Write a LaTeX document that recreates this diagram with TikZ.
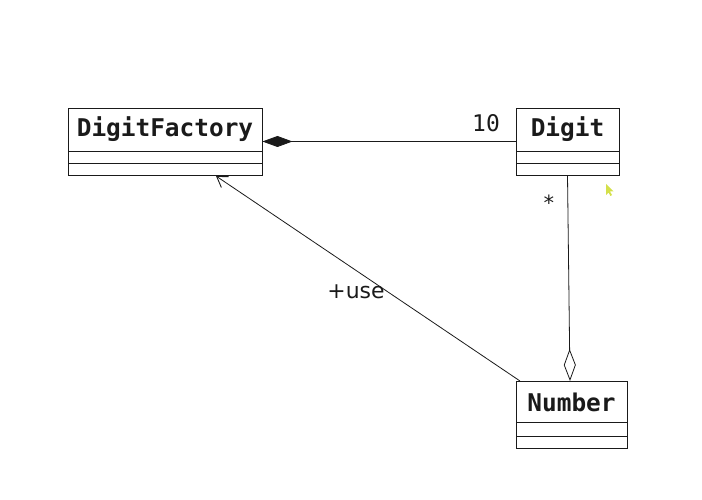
\documentclass[tikz,border=0pt]{standalone}
\usepackage{fontspec}
\usetikzlibrary{arrows.meta}
\newfontfamily\clsfont{DejaVu Sans Mono}
\newfontfamily\lblsans{DejaVu Sans}
\newfontfamily\lblmono{DejaVu Sans Mono}
\definecolor{ink}{HTML}{1A1A1A}
\definecolor{cursorcol}{HTML}{D4E04A}
\tikzset{
  classbox/.style={draw=ink, line width=0.9bp, inner sep=0pt, fill=white},
  clsname/.style={font=\clsfont\bfseries\fontsize{24.5}{24.5}\selectfont, text=ink, inner sep=0pt},
  conn/.style={draw=ink, line width=0.8bp},
  lbl/.style={text=ink, inner sep=0pt},
}
\begin{document}
\begin{tikzpicture}[x=1bp,y=-1bp]
\useasboundingbox (0,0) rectangle (702,500);
% DigitFactory
\node[classbox, minimum width=194bp, minimum height=67bp] (df) at (165,141.5) {};
\node[clsname] (dfn) at (165,129) {DigitFactory};
\draw[conn] (68,151) -- (262,151);
\draw[conn] (68,163) -- (262,163);
% Digit
\node[classbox, minimum width=103bp, minimum height=67bp] (dg) at (567.5,141.5) {};
\node[clsname] (dgn) at (567.5,129) {Digit};
\draw[conn] (516,151) -- (619,151);
\draw[conn] (516,163) -- (619,163);
% Number
\node[classbox, minimum width=111bp, minimum height=67bp] (num) at (571.5,414.5) {};
\node[clsname] (numn) at (571.5,402) {Number};
\draw[conn] (516,422) -- (627,422);
\draw[conn] (516,436) -- (627,436);
% connectors
\coordinate (agg) at (570,381);
\coordinate (usefrom) at (520,381);
\coordinate (useto) at (216,176);
\draw[conn, {Diamond[length=30bp,width=11bp,fill=ink]}-] (df.east) -- (dg.west);
\draw[conn, {Diamond[open,length=32bp,width=12bp,fill=white]}-] (agg) -- (dg.south);
\draw[conn, -{Straight Barb[length=10bp,width=13bp,line width=0.9bp]}] (usefrom) -- (useto);
% labels
\node[lbl, font=\lblmono\fontsize{23}{23}\selectfont] (l10) at (486,123) {10};
\node[lbl, font=\lblmono\fontsize{21}{21}\selectfont] (lstar) at (549,203) {*};
\node[lbl, font=\lblsans\fontsize{22}{22}\selectfont] (luse) at (356,292) {+use};
% cursor artifact
\fill[cursorcol] (606,184) -- (606,195) -- (608.5,192.5) -- (610.5,196) -- (612,195) -- (610,191.5) -- (613.5,191.5) -- cycle;
\end{tikzpicture}
\end{document}
